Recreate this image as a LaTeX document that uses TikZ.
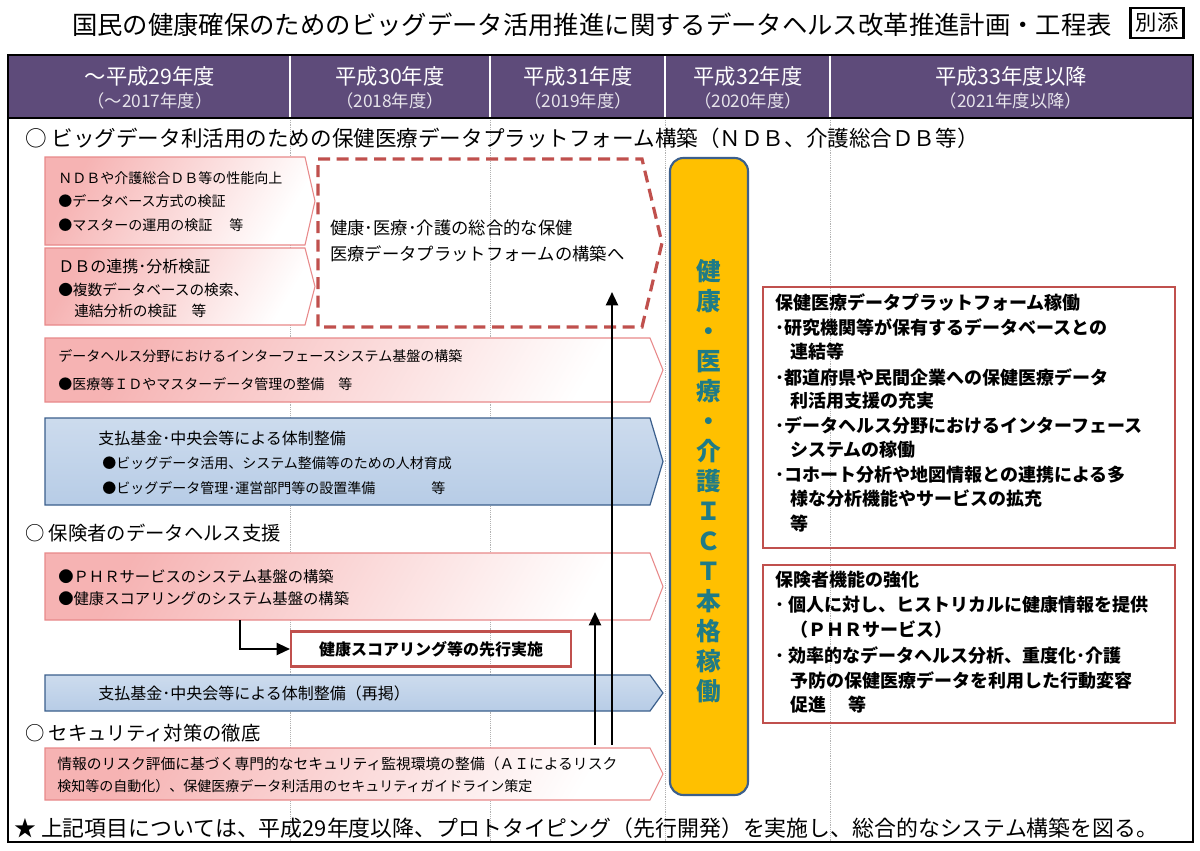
\documentclass[tikz,border=0pt]{standalone}
\usepackage{fontspec}
\setmainfont{Noto Sans CJK JP}
\usetikzlibrary{arrows.meta}
\definecolor{hdr}{HTML}{5E4B7A}
\definecolor{redb}{HTML}{C0504D}
\definecolor{pinkb}{HTML}{E8898A}
\definecolor{pinkf}{HTML}{F6B3B3}
\definecolor{bluef}{HTML}{B7CCE6}
\definecolor{blueb}{HTML}{3B5F8C}
\definecolor{yel}{HTML}{FFC000}
\definecolor{teal}{HTML}{1F7B86}
\newcommand{\fitw}[2]{\resizebox{#1pt}{!}{#2}}
\tikzset{
 pinkbox/.style={draw=pinkb, line width=0.8pt, left color=pinkf, right color=white, shading angle=60},
 bluebox/.style={draw=blueb, line width=0.9pt, top color=bluef!70!white, bottom color=bluef},
 txt/.style={anchor=west, inner sep=0pt, font=\fontsize{10.5pt}{12pt}\selectfont},
 hd/.style={anchor=west, inner sep=0pt, font=\fontsize{14.5pt}{16pt}\selectfont},
 rtxt/.style={anchor=west, inner sep=0pt, font=\fontsize{13.5pt}{15pt}\selectfont\bfseries},
 yr/.style={inner sep=0pt, text=white, font=\fontsize{16pt}{17pt}\selectfont},
 yr2/.style={inner sep=0pt, text=white!85!hdr, font=\fontsize{13pt}{14pt}\selectfont},
 arr/.style={-{Triangle[length=10pt,width=9pt]}, line width=1.6pt},
}
\newcommand{\pent}[6]{\path[#6] (#1,#2)--(#3,#2)--(#5,{(#2+#4)/2})--(#3,#4)--(#1,#4)--cycle;}
\begin{document}
\begin{tikzpicture}[x=0.75pt,y=-0.75pt]
\useasboundingbox (0,0) rectangle (1200,850);
\fill[white] (0,0) rectangle (1200,850);
% title
\node (title) at (592,25) {\fitw{780}{国民の健康確保のためのビッグデータ活用推進に関するデータヘルス改革推進計画・工程表}};
\node[draw, line width=1.8pt, inner sep=4pt, font=\fontsize{16pt}{18pt}\selectfont] (betten) at (1157,23) {別添};
% header
\fill[hdr] (8,55) rectangle (1193,118);
\foreach \x in {290,490,665,830}{
  \draw[white, line width=1pt] (\x,55)--(\x,118);
  \draw[gray!60, densely dotted] (\x,118)--(\x,842);
}
\node[yr] (y1) at (150,76) {～平成29年度};
\node[yr2] (y1b) at (150,101) {（～2017年度）};
\node[yr] (y2) at (390,76) {平成30年度};
\node[yr2] (y2b) at (390,101) {（2018年度）};
\node[yr] (y3) at (578,76) {平成31年度};
\node[yr2] (y3b) at (578,101) {（2019年度）};
\node[yr] (y4) at (748,76) {平成32年度};
\node[yr2] (y4b) at (748,101) {（2020年度）};
\node[yr] (y5) at (1011,76) {平成33年度以降};
\node[yr2] (y5b) at (1011,101) {（2021年度以降）};
\draw[line width=1.2pt] (8,55) rectangle (1193,842);
\draw[line width=1pt] (8,118)--(1193,118);
% section 1
\node[hd] (s1) at (25,138) {\fitw{715}{○ ビッグデータ利活用のための保健医療データプラットフォーム構築（ＮＤＢ、介護総合ＤＢ等）}};
\pent{45}{157}{305}{245}{315}{pinkbox}
\node[txt] (a1) at (58,178) {ＮＤＢや介護総合ＤＢ等の性能向上};
\node[txt] (a2) at (58,201) {●データベース方式の検証};
\node[txt] (a3) at (58,225) {●マスターの運用の検証　 等};
\pent{45}{248}{305}{325}{315}{pinkbox}
\node[txt, font=\fontsize{12pt}{13pt}\selectfont] (b1) at (58,266) {ＤＢの連携･分析検証};
\node[txt, font=\fontsize{11pt}{13pt}\selectfont] (b2) at (58,290) {●複数データベースの検索、};
\node[txt, font=\fontsize{11pt}{13pt}\selectfont] (b3) at (74,311) {連結分析の検証　等};
\pent{318}{159}{642}{327}{662}{draw=redb, line width=2.4pt, dash pattern=on 9pt off 5pt}
\node[txt, font=\fontsize{13pt}{14pt}\selectfont] (c1) at (330,228) {健康･医療･介護の総合的な保健};
\node[txt, font=\fontsize{13pt}{14pt}\selectfont] (c2) at (330,254) {医療データプラットフォームの構築へ};
\pent{45}{338}{650}{402}{663}{pinkbox}
\node[txt] (d1) at (58,356) {データヘルス分野におけるインターフェースシステム基盤の構築};
\node[txt] (d2) at (58,384) {●医療等ＩＤやマスターデータ管理の整備　等};
\pent{45}{418}{650}{505}{663}{bluebox}
\node[txt, font=\fontsize{12pt}{13pt}\selectfont] (e1) at (98,438) {支払基金･中央会等による体制整備};
\node[txt] (e2) at (102,463) {●ビッグデータ活用、システム整備等のための人材育成};
\node[txt] (e3) at (102,488) {●ビッグデータ管理･運営部門等の設置準備　　　　等};
% section 2
\node[hd] (s2) at (25,533) {○ 保険者のデータヘルス支援};
\pent{45}{553}{650}{620}{663}{pinkbox}
\node[txt, font=\fontsize{11.5pt}{13pt}\selectfont] (f1) at (58,577) {●ＰＨＲサービスのシステム基盤の構築};
\node[txt, font=\fontsize{11.5pt}{13pt}\selectfont] (f2) at (58,599) {●健康スコアリングのシステム基盤の構築};
\node[draw=redb, line width=1.6pt, minimum width=280pt*0.75, minimum height=35pt*0.75, anchor=west, font=\fontsize{12pt}{13pt}\selectfont\bfseries] (g) at (290,649) {健康スコアリング等の先行実施};
\coordinate (gs) at (240,620);
\draw[arr] (gs) |- (g.west);
\pent{45}{675}{650}{711}{663}{bluebox}
\node[txt, font=\fontsize{12pt}{13pt}\selectfont] (h1) at (98,693) {支払基金･中央会等による体制整備（再掲）};
% section 3
\node[hd] (s3) at (25,733) {○ セキュリティ対策の徹底};
\pent{45}{748}{650}{800}{663}{pinkbox}
\node[txt] (i1) at (57,764) {\fitw{420}{情報のリスク評価に基づく専門的なセキュリティ監視環境の整備（ＡＩによるリスク}};
\node[txt] (i2) at (57,786) {検知等の自動化）、保健医療データ利活用のセキュリティガイドライン策定};
\coordinate (p1s) at (595,745); \coordinate (p1e) at (595,612);
\coordinate (p2s) at (612,745); \coordinate (p2e) at (612,292);
\draw[arr] (p1s)--(p1e);
\draw[arr] (p2s)--(p2e);
% yellow column
\draw[blueb, fill=yel, line width=1.6pt, rounded corners=10pt] (670,158) rectangle (748,795);
\node[text=teal, font=\fontsize{18.5pt}{22.5pt}\selectfont\bfseries, align=center, inner sep=0pt] (ict) at (709,481)
 {健\\康\\・\\医\\療\\・\\介\\護\\Ｉ\\Ｃ\\Ｔ\\本\\格\\稼\\働};
% right boxes
\draw[redb, line width=1.6pt] (763,287) rectangle (1175,548);
\node[rtxt] (r1) at (775,303) {保健医療データプラットフォーム稼働};
\node[rtxt] (r2) at (775,328) {･研究機関等が保有するデータベースとの};
\node[rtxt] (r3) at (790,352) {連結等};
\node[rtxt] (r4) at (775,377) {･都道府県や民間企業への保健医療データ};
\node[rtxt] (r5) at (790,401) {利活用支援の充実};
\node[rtxt] (r6) at (775,426) {･データヘルス分野におけるインターフェース};
\node[rtxt] (r7) at (790,450) {システムの稼働};
\node[rtxt] (r8) at (775,475) {･コホート分析や地図情報との連携による多};
\node[rtxt] (r9) at (790,499) {様な分析機能やサービスの拡充};
\node[rtxt] (r10) at (790,524) {等};
\draw[redb, line width=1.6pt] (763,565) rectangle (1175,723);
\node[rtxt] (q1) at (775,580) {保険者機能の強化};
\node[rtxt] (q2) at (775,605) {･ 個人に対し、ヒストリカルに健康情報を提供};
\node[rtxt] (q3) at (790,630) {（ＰＨＲサービス）};
\node[rtxt] (q4) at (775,656) {･ 効率的なデータヘルス分析、重度化･介護};
\node[rtxt] (q5) at (790,681) {予防の保健医療データを利用した行動変容};
\node[rtxt] (q6) at (790,705) {促進　 等};
% footer
\node[anchor=west, inner sep=0pt] (foot) at (14,828) {\fitw{858}{★ 上記項目については、平成29年度以降、プロトタイピング（先行開発）を実施し、総合的なシステム構築を図る。}};
\end{tikzpicture}
\end{document}
